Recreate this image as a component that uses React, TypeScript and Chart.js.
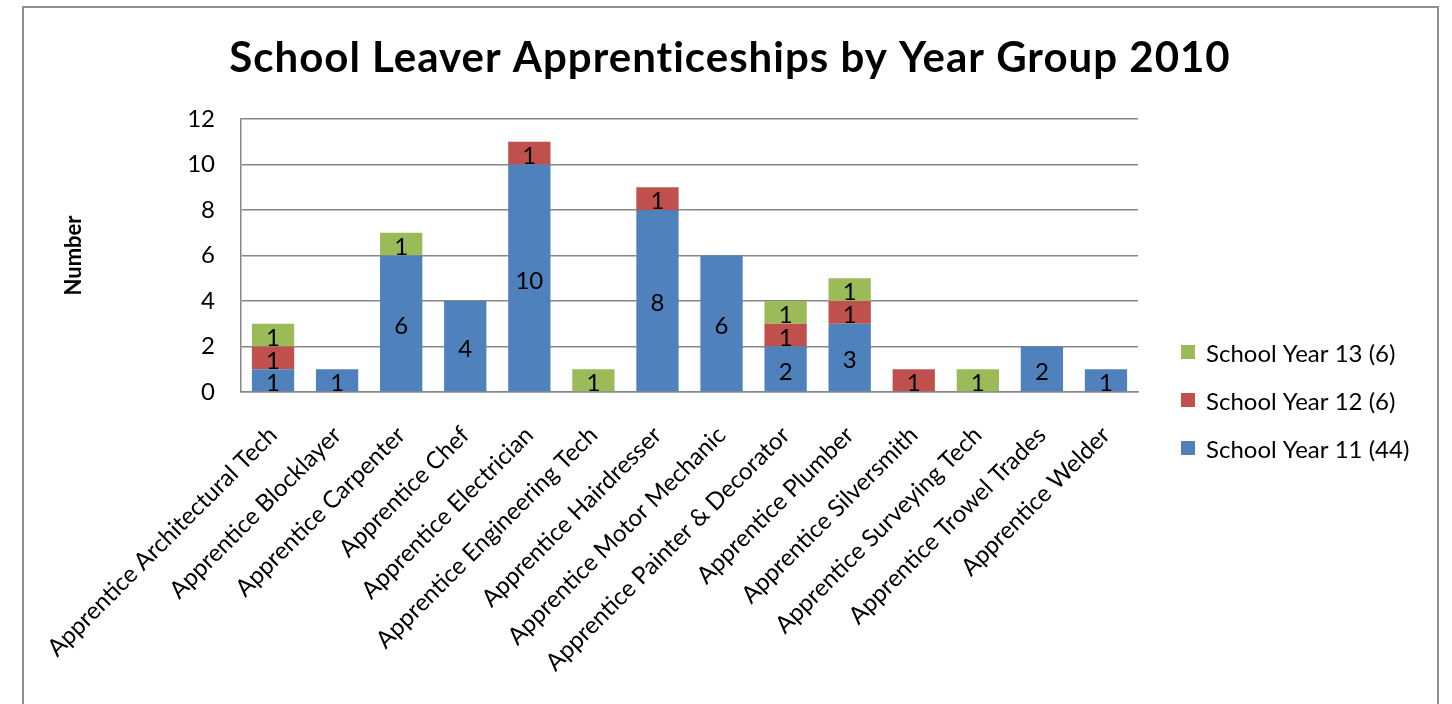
import React, { useEffect, useRef } from 'react';
import { Chart, registerables } from 'chart.js';

Chart.register(...registerables);

const categories = [
  'Apprentice Architectural Tech',
  'Apprentice Blocklayer',
  'Apprentice Carpenter',
  'Apprentice Chef',
  'Apprentice Electrician',
  'Apprentice Engineering Tech',
  'Apprentice Hairdresser',
  'Apprentice Motor Mechanic',
  'Apprentice Painter & Decorator',
  'Apprentice Plumber',
  'Apprentice Silversmith',
  'Apprentice Surveying Tech',
  'Apprentice Trowel Trades',
  'Apprentice Welder',
];

const year11 = [1, 1, 6, 4, 10, 0, 8, 6, 2, 3, 0, 0, 2, 1];
const year12 = [1, 0, 0, 0, 1, 0, 1, 0, 1, 1, 1, 0, 0, 0];
const year13 = [1, 0, 1, 0, 0, 1, 0, 0, 1, 1, 0, 1, 0, 0];

const seriesNames = ['School Year 11 (44)', 'School Year 12 (6)', 'School Year 13 (6)'];
const seriesColors = ['#4F81BD', '#C0504D', '#9BBB59'];

const titleText = 'School Leaver Apprenticeships by Year Group 2010';
const yAxisTitle = 'Number';
const yMin = 0;
const yMax = 12;
const yStep = 2;

const FONT = 'Lato, "Open Sans", sans-serif';
const GRID = '#878787';

const framePlugin = {
  id: 'frame',
  beforeDraw(chart: any) {
    const ctx = chart.ctx;
    ctx.save();
    ctx.fillStyle = '#ffffff';
    ctx.fillRect(0, 0, chart.width, chart.height);
    ctx.strokeStyle = '#8f8f8f';
    ctx.lineWidth = 2;
    ctx.strokeRect(23, 7, 1415, 760);
    // chart title
    ctx.fillStyle = '#000000';
    ctx.font = `bold 42px ${FONT}`;
    try {
      (ctx as any).letterSpacing = '1px';
    } catch (e) {}
    ctx.textAlign = 'center';
    ctx.textBaseline = 'alphabetic';
    ctx.fillText(titleText, 730, 72);
    try {
      (ctx as any).letterSpacing = '0px';
    } catch (e) {}
    ctx.restore();
  },
};

const valueLabelPlugin = {
  id: 'valueLabels',
  afterDatasetsDraw(chart: any) {
    const ctx = chart.ctx;
    ctx.save();
    ctx.font = `24px ${FONT}`;
    ctx.fillStyle = '#000000';
    ctx.textAlign = 'center';
    ctx.textBaseline = 'middle';
    chart.data.datasets.forEach((ds: any, i: number) => {
      const meta = chart.getDatasetMeta(i);
      meta.data.forEach((bar: any, j: number) => {
        const v = ds.data[j];
        if (!v) return;
        const p = bar.getProps(['x', 'y', 'base'], true);
        ctx.fillText(String(v), p.x, (p.y + p.base) / 2 + 3);
      });
    });
    ctx.restore();
  },
};

const legendPlugin = {
  id: 'customLegend',
  afterDraw(chart: any) {
    const ctx = chart.ctx;
    const ds = chart.data.datasets;
    ctx.save();
    ctx.font = `24px ${FONT}`;
    ctx.textAlign = 'left';
    ctx.textBaseline = 'middle';
    const x0 = 1181;
    const y0 = 352;
    const gap = 48;
    for (let k = 0; k < ds.length; k++) {
      const d = ds[ds.length - 1 - k];
      const cy = y0 + k * gap;
      ctx.fillStyle = d.backgroundColor;
      ctx.fillRect(x0, cy - 7, 14, 14);
      ctx.fillStyle = '#000000';
      ctx.fillText(d.label, x0 + 25, cy + 2);
    }
    ctx.restore();
  },
};

export default function App() {
  const ref = useRef<HTMLCanvasElement | null>(null);

  useEffect(() => {
    if (!ref.current) return;
    const seriesData = [year11, year12, year13];
    const chart = new Chart(ref.current, {
      type: 'bar',
      data: {
        labels: categories,
        datasets: seriesData.map((d, i) => ({
          label: seriesNames[i],
          data: d,
          backgroundColor: seriesColors[i],
          borderWidth: 0,
          barPercentage: 0.66,
          categoryPercentage: 1,
        })),
      },
      options: {
        animation: false,
        responsive: false,
        devicePixelRatio: 1,
        layout: { padding: { left: 40, right: 314, top: 119, bottom: 0 } },
        plugins: {
          legend: { display: false },
          tooltip: { enabled: false },
          title: { display: false },
        },
        scales: {
          x: {
            stacked: true,
            grid: { display: false, drawTicks: false },
            border: { display: true, color: GRID, width: 1.5 },
            ticks: {
              autoSkip: false,
              minRotation: 45,
              maxRotation: 45,
              color: '#000000',
              padding: 29,
              font: { family: FONT, size: 24 },
            },
            afterFit: (s: any) => {
              s.height = 312;
            },
          },
          y: {
            stacked: true,
            min: yMin,
            max: yMax,
            ticks: {
              stepSize: yStep,
              color: '#000000',
              padding: 26,
              font: { family: FONT, size: 24 },
            },
            grid: { color: GRID, lineWidth: 1.5, drawTicks: false },
            border: { display: true, color: GRID, width: 1.5 },
            title: {
              display: true,
              text: yAxisTitle,
              color: '#000000',
              font: { family: FONT, size: 22, weight: 'bold' },
              padding: { top: 21, bottom: 0 },
            },
            afterFit: (s: any) => {
              s.width = 201;
            },
          },
        },
      },
      plugins: [framePlugin, valueLabelPlugin, legendPlugin],
    } as any);
    return () => chart.destroy();
  }, []);

  return (
    <div style={{ position: 'absolute', left: 0, top: 0, width: 1452, height: 704 }}>
      <canvas ref={ref} width={1452} height={704} style={{ display: 'block' }} />
    </div>
  );
}
